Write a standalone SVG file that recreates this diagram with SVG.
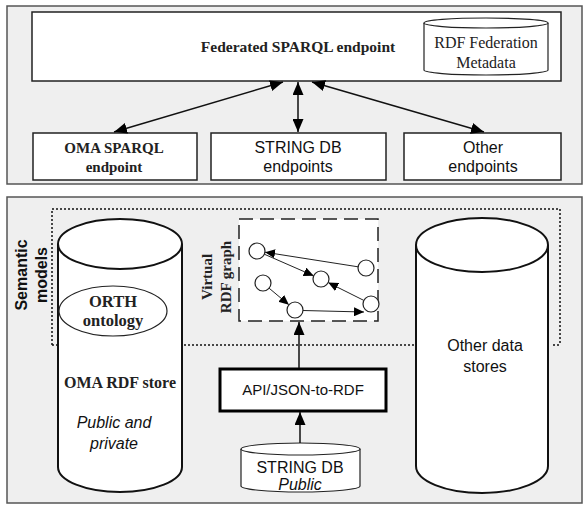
<svg xmlns="http://www.w3.org/2000/svg" width="587" height="511" viewBox="0 0 587 511">
<defs>
<style>
.panel{fill:#efefef;stroke:#555;stroke-width:1.5}
.box{fill:#fff;stroke:#222;stroke-width:1.5}
.cyl{fill:#fff;stroke:#111;stroke-width:2}
.thin{fill:#fff;stroke:#222;stroke-width:1.2}
.serifb{font-family:"Liberation Serif","Times New Roman",serif;font-weight:bold;font-size:15px;fill:#222}
.serif{font-family:"Liberation Serif","Times New Roman",serif;font-size:16px;fill:#222}
.sans{font-family:"Liberation Sans",Arial,sans-serif;font-size:16px;fill:#111}
.sansi{font-family:"Liberation Sans",Arial,sans-serif;font-size:16px;font-style:italic;fill:#111}
.sansb{font-family:"Liberation Sans",Arial,sans-serif;font-size:16px;font-weight:bold;fill:#111}
.conn{stroke:#111;stroke-width:1.5;fill:none}
.gconn{stroke:#222;stroke-width:1;fill:none}
</style>
<marker id="ah" markerUnits="userSpaceOnUse" markerWidth="14" markerHeight="11" refX="13" refY="5.5" orient="auto-start-reverse">
<path d="M0,0 L13,5.5 L0,11 Z" fill="#000"/>
</marker>
<marker id="ahs" markerUnits="userSpaceOnUse" markerWidth="11" markerHeight="9" refX="10" refY="4.5" orient="auto">
<path d="M0,0 L10,4.5 L0,9 Z" fill="#000"/>
</marker>
</defs>

<rect class="panel" x="7" y="6" width="575" height="178"/>
<rect class="panel" x="7" y="197" width="575" height="306"/>

<g id="federated">
<rect class="box" x="32" y="12" width="529" height="69"/>
<text class="serifb" x="298" y="52" text-anchor="middle" style="font-size:15.5px">Federated SPARQL endpoint</text>
</g>
<g id="rdf-federation-metadata">
<path class="thin" d="M424,23 V70 A62,5 0 0 0 548,70 V23"/>
<ellipse class="thin" cx="486" cy="23" rx="62" ry="5"/>
<text class="serif" x="486" y="48" text-anchor="middle">RDF Federation</text>
<text class="serif" x="486" y="68" text-anchor="middle">Metadata</text>
</g>
<g id="oma-sparql">
<rect class="box" x="33" y="133" width="164" height="47"/>
<text class="serifb" x="114" y="153" text-anchor="middle">OMA SPARQL</text>
<text class="serifb" x="114" y="172" text-anchor="middle">endpoint</text>
</g>
<g id="string-endpoints">
<rect class="box" x="211" y="133" width="175" height="47"/>
<text class="sans" x="298" y="153" text-anchor="middle">STRING DB</text>
<text class="sans" x="298" y="172" text-anchor="middle">endpoints</text>
</g>
<g id="other-endpoints">
<rect class="box" x="404" y="133" width="157" height="47"/>
<text class="sans" x="483" y="153" text-anchor="middle">Other</text>
<text class="sans" x="483" y="172" text-anchor="middle">endpoints</text>
</g>

<g id="semantic-models">
<path d="M52,345 V209 H560 V345 M52,345 H425 M553,345 H560" fill="none" stroke="#111" stroke-width="1.5" stroke-dasharray="2,2"/>
<text class="sansb" transform="translate(27,275) rotate(-90)" text-anchor="middle">Semantic</text>
<text class="sansb" transform="translate(47,275) rotate(-90)" text-anchor="middle">models</text>
</g>

<g id="oma-rdf-store">
<path class="cyl" d="M58,244 V467 A62,25 0 0 0 182,467 V244"/>
<ellipse class="cyl" cx="120" cy="244" rx="62" ry="25"/>
<text class="serifb" x="120" y="388" text-anchor="middle" style="font-size:16px">OMA RDF store</text>
<text class="sansi" x="114" y="428" text-anchor="middle">Public and</text>
<text class="sansi" x="114" y="449" text-anchor="middle">private</text>
</g>
<g id="orth-ontology">
<ellipse class="thin" cx="113" cy="311" rx="54" ry="25"/>
<text class="serifb" x="113" y="307" text-anchor="middle" style="font-size:16.5px">ORTH</text>
<text class="serifb" x="113" y="326" text-anchor="middle" style="font-size:16.5px">ontology</text>
</g>

<g id="other-data-stores">
<path class="cyl" d="M416,245 V466 A66,27 0 0 0 548,466 V245"/>
<ellipse class="cyl" cx="482" cy="245" rx="66" ry="27"/>
<text class="sans" x="485" y="351" text-anchor="middle">Other data</text>
<text class="sans" x="485" y="372" text-anchor="middle">stores</text>
</g>

<g id="virtual-rdf-graph">
<rect x="239" y="219" width="139" height="102" fill="#fff" stroke="#222" stroke-width="1.5" stroke-dasharray="14,7"/>
<text class="serifb" transform="translate(212,277) rotate(-90)" text-anchor="middle">Virtual</text>
<text class="serifb" transform="translate(231,277) rotate(-90)" text-anchor="middle">RDF graph</text>
<g class="gconn" marker-end="url(#ahs)">
<line x1="358" y1="266.8" x2="265" y2="252.2"/>
<line x1="264.3" y1="254.2" x2="313.7" y2="275.8"/>
<line x1="363.8" y1="300.4" x2="328.2" y2="282.6"/>
<line x1="269.1" y1="288.2" x2="288.9" y2="304.8"/>
<line x1="303" y1="310.5" x2="364" y2="312"/>
</g>
<g class="thin">
<circle cx="257" cy="251" r="8"/>
<circle cx="366" cy="268" r="8"/>
<circle cx="321" cy="279" r="8"/>
<circle cx="263" cy="283" r="8"/>
<circle cx="295" cy="310" r="8"/>
<circle cx="371" cy="304" r="8"/>
</g>
</g>

<g id="api-json-to-rdf">
<rect x="220" y="369" width="166" height="42" fill="#fff" stroke="#000" stroke-width="3"/>
<text class="sans" x="303" y="395" text-anchor="middle" style="font-size:15px">API/JSON-to-RDF</text>
</g>

<g id="string-db">
<path class="thin" d="M241,449 V486 A59.5,6 0 0 0 360,486 V449"/>
<ellipse class="thin" cx="300.5" cy="449" rx="59.5" ry="6"/>
<text class="sans" x="300" y="473" text-anchor="middle">STRING DB</text>
<text class="sansi" x="300" y="490" text-anchor="middle">Public</text>
</g>

<g id="connectors">
<line class="conn" x1="283" y1="82" x2="114" y2="132" marker-start="url(#ah)" marker-end="url(#ah)"/>
<line class="conn" x1="298" y1="82" x2="298" y2="132" marker-start="url(#ah)" marker-end="url(#ah)"/>
<line class="conn" x1="312" y1="82" x2="484" y2="132" marker-start="url(#ah)" marker-end="url(#ah)"/>
<line class="conn" x1="299" y1="368" x2="299" y2="322" marker-end="url(#ah)"/>
<line class="conn" x1="300" y1="443" x2="300" y2="412" marker-end="url(#ah)"/>
</g>
</svg>
